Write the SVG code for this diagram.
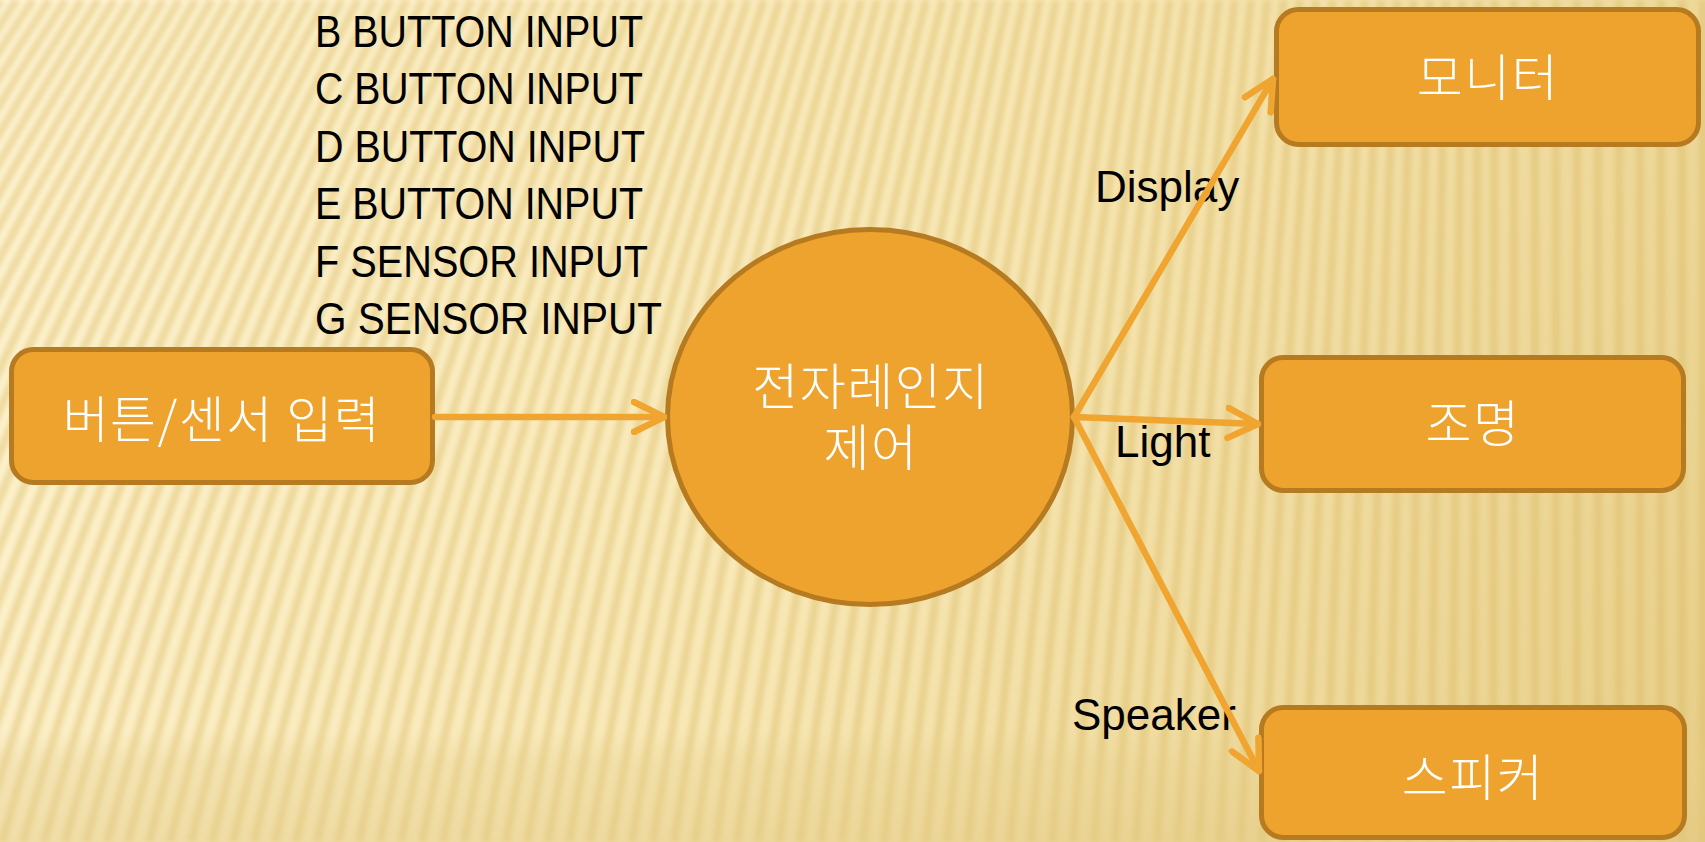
<svg xmlns="http://www.w3.org/2000/svg" width="1705" height="842" viewBox="0 0 1705 842">
<style>
.node{fill:#EEA32F;stroke:#B67A20;stroke-width:5}
.kr{font-family:"Noto Sans CJK KR","Noto Sans",sans-serif;font-size:50px;letter-spacing:1.5px;fill:#FFFFFF;text-anchor:middle;font-weight:300}
.en{font-family:"Liberation Sans",Arial,sans-serif;font-size:44px;fill:#000000}
.inp{font-family:"Liberation Sans Narrow","Liberation Sans",Arial,sans-serif;font-size:45px;fill:#000000}
.conn{stroke:#EFA530;stroke-width:6.5;fill:none;stroke-linecap:round;marker-end:url(#arr)}
</style>
<defs>
<linearGradient id="bg" x1="0" y1="0" x2="1705" y2="842" gradientUnits="userSpaceOnUse">
<stop offset="0" stop-color="#FEF4D3"/>
<stop offset="0.5" stop-color="#F8E8B6"/>
<stop offset="1" stop-color="#E7CE88"/>
</linearGradient>
<linearGradient id="bot" x1="0" y1="730" x2="0" y2="842" gradientUnits="userSpaceOnUse">
<stop offset="0" stop-color="#E6CF8C" stop-opacity="0"/>
<stop offset="0.3" stop-color="#E6CF8C" stop-opacity="0.35"/>
<stop offset="1" stop-color="#E2C880" stop-opacity="0.45"/>
</linearGradient>
<filter id="soft" x="-5%" y="-5%" width="110%" height="110%">
<feGaussianBlur stdDeviation="2.6"/>
</filter>
<marker id="arr" markerUnits="userSpaceOnUse" viewBox="0 0 36 36" refX="33" refY="18" markerWidth="36" markerHeight="36" orient="auto">
<path d="M3,3 L33,18 L3,33" fill="none" stroke="#EFA530" stroke-width="6.5" stroke-linecap="round" stroke-linejoin="round"/>
</marker>
</defs>
<g id="background">
<rect x="0" y="0" width="1705" height="842" fill="url(#bg)"/>
<path filter="url(#soft)" fill="none" stroke="#D8B760" stroke-opacity="0.42" stroke-width="8" d="M-460 842Q-304.5 421 -15.7 0M-439 842Q-285.2 421 0.5 0M-418 842Q-265.8 421 16.8 0M-397 842Q-246.5 421 33 0M-376 842Q-227.2 421 49.3 0M-355 842Q-207.8 421 65.5 0M-334 842Q-188.5 421 81.7 0M-313 842Q-169.2 421 98 0M-292 842Q-149.8 421 114.2 0M-271 842Q-130.5 421 130.5 0M-250 842Q-111.2 421 146.7 0M-229 842Q-91.8 421 163 0M-208 842Q-72.5 421 179.2 0M-187 842Q-53.1 421 195.4 0M-166 842Q-33.8 421 211.7 0M-145 842Q-14.5 421 227.9 0M-124 842Q4.9 421 244.1 0M-103 842Q24.2 421 260.4 0M-82 842Q43.5 421 276.6 0M-61 842Q62.9 421 292.9 0M-40 842Q82.2 421 309.1 0M-19 842Q101.5 421 325.3 0M2 842Q120.9 421 341.6 0M23 842Q140.2 421 357.8 0M44 842Q159.5 421 374.1 0M65 842Q178.9 421 390.3 0M86 842Q198.2 421 406.5 0M107 842Q217.5 421 422.8 0M128 842Q236.9 421 439 0M149 842Q256.2 421 455.3 0M170 842Q275.6 421 471.5 0M191 842Q294.9 421 487.7 0M212 842Q314.2 421 504 0M233 842Q333.6 421 520.2 0M254 842Q352.9 421 536.5 0M275 842Q372.2 421 552.7 0M296 842Q391.6 421 568.9 0M317 842Q410.9 421 585.2 0M338 842Q430.2 421 601.4 0M359 842Q449.6 421 617.7 0M380 842Q468.9 421 633.9 0M401 842Q488.2 421 650.1 0M422 842Q507.6 421 666.4 0M443 842Q526.9 421 682.6 0M464 842Q546.2 421 698.9 0M485 842Q565.6 421 715.1 0M506 842Q584.9 421 731.3 0M527 842Q604.2 421 747.6 0M548 842Q623.6 421 763.8 0M569 842Q642.9 421 780.1 0M590 842Q662.3 421 796.3 0M611 842Q681.6 421 812.5 0M632 842Q700.9 421 828.8 0M653 842Q720.3 421 845 0M674 842Q739.6 421 861.3 0M695 842Q758.9 421 877.5 0M716 842Q778.3 421 893.7 0M737 842Q797.6 421 910 0M758 842Q816.9 421 926.2 0M779 842Q836.3 421 942.5 0M800 842Q855.6 421 958.7 0M821 842Q874.9 421 974.9 0M842 842Q894.3 421 991.2 0M863 842Q913.6 421 1007.4 0M884 842Q932.9 421 1023.7 0M905 842Q952.3 421 1039.9 0M926 842Q971.6 421 1056.1 0M947 842Q991 421 1072.4 0M968 842Q1010.3 421 1088.6 0M989 842Q1029.6 421 1104.9 0M1010 842Q1049 421 1121.1 0M1031 842Q1068.3 421 1137.3 0M1052 842Q1087.6 421 1153.6 0M1073 842Q1107 421 1169.8 0M1094 842Q1126.3 421 1186.1 0M1115 842Q1145.6 421 1202.3 0M1136 842Q1165 421 1218.5 0M1157 842Q1184.3 421 1234.8 0M1178 842Q1203.6 421 1251 0M1199 842Q1223 421 1267.3 0M1220 842Q1242.3 421 1283.5 0M1241 842Q1261.6 421 1299.7 0M1262 842Q1281 421 1316 0M1283 842Q1300.3 421 1332.2 0M1304 842Q1319.6 421 1348.5 0M1325 842Q1339 421 1364.7 0M1346 842Q1358.3 421 1380.9 0M1367 842Q1377.7 421 1397.2 0M1388 842Q1397 421 1413.4 0M1409 842Q1416.3 421 1429.7 0M1430 842Q1435.7 421 1445.9 0M1451 842Q1455 421 1462.1 0M1472 842Q1474.3 421 1478.4 0M1493 842Q1493.7 421 1494.6 0M1514 842L1514 0M1535 842L1535 0M1556 842L1556 0M1577 842L1577 0M1598 842L1598 0M1619 842L1619 0M1640 842L1640 0M1661 842L1661 0M1682 842L1682 0M1703 842L1703 0"/>
<rect x="0" y="700" width="1705" height="142" fill="url(#bot)"/>
</g>
<g id="input-list">
<text class="inp" x="315" y="47" textLength="328" lengthAdjust="spacingAndGlyphs">B BUTTON INPUT</text>
<text class="inp" x="315" y="104" textLength="328" lengthAdjust="spacingAndGlyphs">C BUTTON INPUT</text>
<text class="inp" x="315" y="162" textLength="330" lengthAdjust="spacingAndGlyphs">D BUTTON INPUT</text>
<text class="inp" x="315" y="219" textLength="328" lengthAdjust="spacingAndGlyphs">E BUTTON INPUT</text>
<text class="inp" x="315" y="277" textLength="333" lengthAdjust="spacingAndGlyphs">F SENSOR INPUT</text>
<text class="inp" x="315" y="334" textLength="347" lengthAdjust="spacingAndGlyphs">G SENSOR INPUT</text>
</g>
<g id="labels">
<text class="en" x="1095" y="202">Display</text>
<text class="en" x="1115" y="457">Light</text>
<text class="en" x="1072" y="730">Speaker</text>
</g>
<g id="node-input">
<rect class="node" x="11.5" y="349.5" width="421" height="133" rx="22"/>
<text class="kr" x="222" y="438">버튼/센서 입력</text>
</g>
<g id="node-control">
<ellipse class="node" cx="870" cy="417" rx="202.5" ry="187.5"/>
<text class="kr"><tspan x="871" y="405">전자레인지</tspan><tspan x="871" y="466">제어</tspan></text>
</g>
<g id="node-monitor">
<rect class="node" x="1276.5" y="9.5" width="422" height="135" rx="22"/>
<text class="kr" x="1488" y="96">모니터</text>
</g>
<g id="node-light">
<rect class="node" x="1261.5" y="357.5" width="422" height="133" rx="22"/>
<text class="kr" x="1473" y="442">조명</text>
</g>
<g id="node-speaker">
<rect class="node" x="1261.5" y="707.5" width="423" height="130" rx="22"/>
<text class="kr" x="1473" y="796">스피커</text>
</g>
<g id="connectors">
<line class="conn" x1="435" y1="417" x2="664" y2="417"/>
<line class="conn" x1="1074" y1="417" x2="1273" y2="79"/>
<line class="conn" x1="1074" y1="417" x2="1258" y2="424"/>
<line class="conn" x1="1074" y1="417" x2="1259" y2="771"/>
</g>
</svg>
